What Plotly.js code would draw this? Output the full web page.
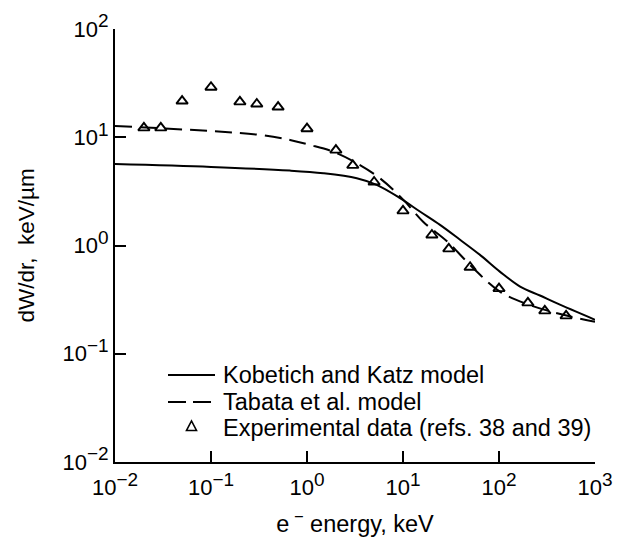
<!DOCTYPE html>
<html>
<head>
<meta charset="utf-8">
<script src="https://cdn.plot.ly/plotly-3.0.1.min.js"></script>
<style>html,body{margin:0;padding:0;background:#fff;}#chart{width:628px;height:544px;}</style>
</head>
<body>
<div id="chart"></div>
<script>
// Kobetich and Katz model
const kkEnergy = [0.01, 0.1, 0.665, 1.48, 3.3, 5.32, 9.3, 15.0, 24.3, 39.3, 63.4, 102, 166, 267, 398, 1000];
const kkDW     = [5.66, 5.32, 4.92, 4.65, 4.18, 3.63, 2.74, 2.06, 1.55, 1.13, 0.819, 0.574, 0.417, 0.345, 0.293, 0.206];
// Tabata et al. model
const tabEnergy = [0.01, 0.1, 0.324, 0.665, 1.07, 1.87, 3.3, 5.75, 10.1, 16.3, 28.5, 54, 102, 209, 468, 1000];
const tabDW     = [12.7, 11.4, 10.5, 9.44, 8.5, 7.36, 5.75, 4.18, 2.64, 1.65, 1.10, 0.617, 0.375, 0.282, 0.229, 0.197];
// Experimental data (refs. 38 and 39)
const expEnergy = [0.02, 0.03, 0.05, 0.1, 0.2, 0.3, 0.5, 1, 2, 3, 5, 10, 20, 30, 50, 100, 200, 300, 500];
const expDW     = [12.2, 12.2, 21.6, 29, 21.2, 20.3, 19, 12, 7.6, 5.5, 3.86, 2.09, 1.25, 0.93, 0.63, 0.4, 0.295, 0.249, 0.224];

const seriesNames = ['Kobetich and Katz model', 'Tabata et al. model', 'Experimental data (refs. 38 and 39)'];

const xTickVals = [0.01, 0.1, 1, 10, 100, 1000];
const xTickExp  = ['−2', '−1', '0', '1', '2', '3'];
const yTickVals = [0.01, 0.1, 1, 10, 100];
const yTickExp  = ['−2', '−1', '0', '1', '2'];

const font = 'Liberation Sans, Arial, sans-serif';
const supText = e => '10<sup><span style="font-size:19px">' + e + '</span></sup>';

const traces = [
  {x: kkEnergy, y: kkDW, type: 'scatter', mode: 'lines', name: seriesNames[0], showlegend: false,
   line: {color: '#000', width: 2, shape: 'spline', smoothing: 1}},
  {x: tabEnergy, y: tabDW, type: 'scatter', mode: 'lines', name: seriesNames[1], showlegend: false,
   line: {color: '#000', width: 2, dash: '17px,8px', shape: 'spline', smoothing: 1}},
  {x: expEnergy, y: expDW, type: 'scatter', mode: 'markers', name: seriesNames[2], showlegend: false,
   marker: {symbol: 'triangle-up-open', size: 10, color: '#000', line: {width: 1.9, color: '#000'}}}
];

// legend block (paper coordinates)
const X0 = 115, W = 480, Y0 = 462, H = 433;
const px = v => (v - X0) / W, py = v => (Y0 - v) / H;
const rows = [375, 402, 428];
const shapes = [
  {type: 'line', xref: 'paper', yref: 'paper', x0: px(168), x1: px(215), y0: py(rows[0]), y1: py(rows[0]),
   line: {color: '#000', width: 2}},
  {type: 'line', xref: 'paper', yref: 'paper', x0: px(168), x1: px(215), y0: py(rows[1]), y1: py(rows[1]),
   line: {color: '#000', width: 2, dash: '18px,7px'}},
  {type: 'path', xref: 'paper', yref: 'paper',
   path: 'M ' + px(186.5) + ',' + py(430.5) + ' L ' + px(196.5) + ',' + py(430.5) + ' L ' + px(191.5) + ',' + py(421) + ' Z',
   line: {color: '#000', width: 1.6}, fillcolor: 'rgba(0,0,0,0)'}
];
const annotations = seriesNames.map((t, i) => ({
  text: t, xref: 'paper', yref: 'paper', x: px(221), y: py(rows[i]), xanchor: 'left', yanchor: 'middle',
  showarrow: false, font: {family: font, size: 23.5, color: '#000'}
}));

const layout = {
  width: 628, height: 544,
  margin: {l: 115, r: 33, t: 29, b: 82},
  paper_bgcolor: '#fff', plot_bgcolor: '#fff',
  font: {family: font, color: '#000', size: 22},
  showlegend: false,
  shapes: shapes,
  annotations: annotations,
  xaxis: {
    type: 'log', range: [-2, 3], showgrid: false, zeroline: false,
    showline: true, linecolor: '#000', linewidth: 2,
    ticks: 'inside', ticklen: 11, tickwidth: 2, tickcolor: '#000',
    tickvals: xTickVals, ticktext: xTickExp.map(supText), ticklabelstandoff: 5,
    tickfont: {family: font, size: 22, color: '#000'},
    title: {text: 'e\u2009<sup>−</sup> energy, keV\u00a0\u00a0\u00a0', font: {family: font, size: 23.5, color: '#000'}, standoff: 16}
  },
  yaxis: {
    type: 'log', range: [-2, 2], showgrid: false, zeroline: false,
    showline: true, linecolor: '#000', linewidth: 2,
    ticks: 'inside', ticklen: 11, tickwidth: 2, tickcolor: '#000',
    tickvals: yTickVals, ticktext: yTickExp.map(supText),
    tickfont: {family: font, size: 22, color: '#000'},
    title: {text: 'dW/dr,\u00a0 keV/µm\u00a0', font: {family: font, size: 22.5, color: '#000'}, standoff: 22}
  }
};

Plotly.newPlot('chart', traces, layout, {displayModeBar: false, staticPlot: true});
</script>
</body>
</html>
